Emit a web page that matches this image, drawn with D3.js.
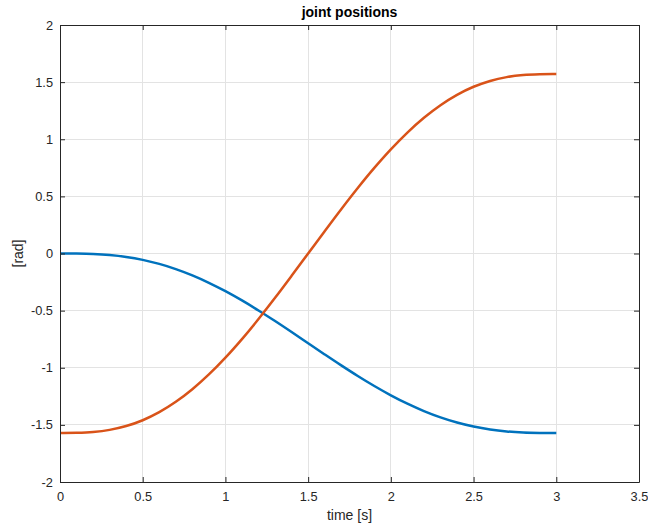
<!DOCTYPE html>
<html><head><meta charset="utf-8">
<script src="https://cdn.jsdelivr.net/npm/d3@7"></script>
<style>body{margin:0;background:#fff}svg{display:block;font-family:"Liberation Sans",Arial,sans-serif}</style>
</head><body><svg id="c" width="648" height="530"></svg>
<script>
const time = [0,0.1,0.2,0.3,0.4,0.5,0.6,0.7,0.8,0.9,1.0,1.1,1.2,1.3,1.4,1.5,1.6,1.7,1.8,1.9,2.0,2.1,2.2,2.3,2.4,2.5,2.6,2.7,2.8,2.9,3.0];
const joint1 = [0,-0.00055,-0.0042,-0.01345,-0.03018,-0.05575,-0.09098,-0.13623,-0.19143,-0.25617,-0.32968,-0.41092,-0.49863,-0.59136,-0.68752,-0.7854,-0.88328,-0.97944,-1.07217,-1.15988,-1.24112,-1.31463,-1.37937,-1.43457,-1.47982,-1.51505,-1.54062,-1.55735,-1.5666,-1.57025,-1.5708];
const joint2 = [-1.5708,-1.5697,-1.5624,-1.5439,-1.51044,-1.4593,-1.38884,-1.29834,-1.18794,-1.05846,-0.91144,-0.74896,-0.57354,-0.38808,-0.19576,0,0.19576,0.38808,0.57354,0.74896,0.91144,1.05846,1.18794,1.29834,1.38884,1.4593,1.51044,1.5439,1.5624,1.5697,1.5708];
const xTicks = [0,0.5,1,1.5,2,2.5,3,3.5];
const yTicks = [-2,-1.5,-1,-0.5,0,0.5,1,1.5,2];
const seriesColors = ["#0072BD","#D95319"];

const svg = d3.select("#c");
const L=60, R=639, T=25, B=482;
const x = d3.scaleLinear().domain([0,3.5]).range([L,R]);
const y = d3.scaleLinear().domain([-2,2]).range([B,T]);
const axCol = "#262626";

// grid
const g = svg.append("g");
g.selectAll(".gx").data(xTicks).join("line")
  .attr("x1",d=>x(d)).attr("x2",d=>x(d)).attr("y1",T).attr("y2",B)
  .attr("stroke","#e3e3e3").attr("stroke-width",1).attr("shape-rendering","crispEdges");
g.selectAll(".gy").data(yTicks).join("line")
  .attr("y1",d=>y(d)).attr("y2",d=>y(d)).attr("x1",L).attr("x2",R)
  .attr("stroke","#e3e3e3").attr("stroke-width",1).attr("shape-rendering","crispEdges");

// lines
const line = d3.line().x((d,i)=>x(time[i])).y(d=>y(d)).curve(d3.curveCatmullRom);
[joint1,joint2].forEach((s,k)=>{
  svg.append("path").attr("d",line(s)).attr("fill","none")
    .attr("stroke",seriesColors[k]).attr("stroke-width",2.5);
});

// axes
const fmt = d=>String(d);
const xa = svg.append("g").attr("transform",`translate(0,${B})`)
  .call(d3.axisBottom(x).tickValues(xTicks).tickFormat(fmt).tickSizeInner(-5).tickSizeOuter(0).tickPadding(9.5));
const xt = svg.append("g").attr("transform",`translate(0,${T})`)
  .call(d3.axisTop(x).tickValues(xTicks).tickFormat("").tickSizeInner(-5).tickSizeOuter(0));
const ya = svg.append("g").attr("transform",`translate(${L},0)`)
  .call(d3.axisLeft(y).tickValues(yTicks).tickFormat(fmt).tickSizeInner(-5).tickSizeOuter(0).tickPadding(7));
const yr = svg.append("g").attr("transform",`translate(${R},0)`)
  .call(d3.axisRight(y).tickValues(yTicks).tickFormat("").tickSizeInner(-5).tickSizeOuter(0));
[xa,xt,ya,yr].forEach(a=>{
  a.selectAll("path").attr("stroke",axCol).attr("stroke-width",1);
  a.selectAll("line").attr("stroke",axCol);
  a.selectAll("text").attr("fill",axCol).style("font-size","12.8px").style("font-family","'Liberation Sans',Arial,sans-serif");
});

svg.append("text").attr("x",(L+R)/2).attr("y",17).attr("text-anchor","middle")
  .style("font-weight","bold").style("font-size","14px").attr("fill","#000").text("joint positions");
svg.append("text").attr("x",(L+R)/2).attr("y",520).attr("text-anchor","middle")
  .style("font-size","14px").attr("fill",axCol).text("time [s]");
svg.append("text").attr("transform",`translate(23,${(T+B)/2}) rotate(-90)`).attr("text-anchor","middle")
  .style("font-size","14px").attr("fill",axCol).text("[rad]");
</script></body></html>
